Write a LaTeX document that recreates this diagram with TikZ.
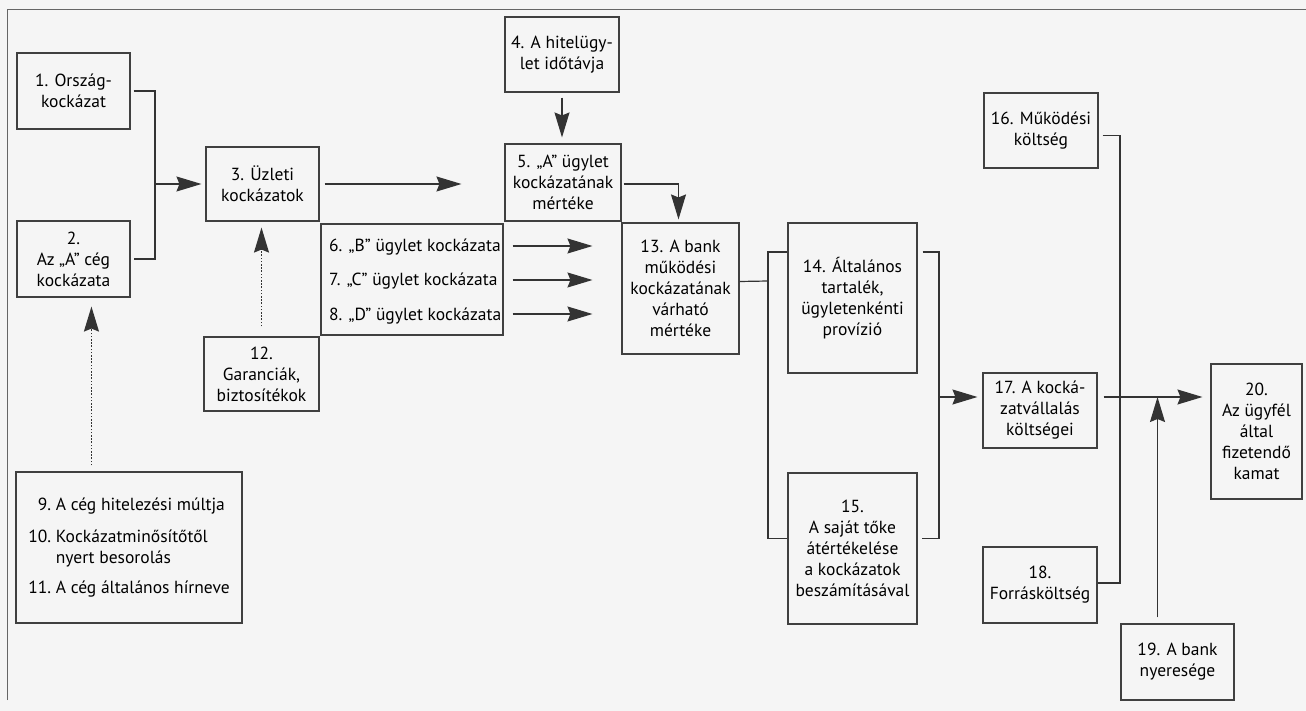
\documentclass[tikz,border=0pt]{standalone}
\usepackage{fontspec}
\setmainfont{PT Sans}
\usetikzlibrary{arrows.meta}

\begin{document}
\begin{tikzpicture}[
    x=1pt, y=-1pt,
    every node/.style={font=\fontsize{17.5}{21}\selectfont, align=center, inner sep=2pt},
    box/.style 2 args={draw=black!75, line width=1.1pt, minimum width=#1, minimum height=#2},
    txt/.style={anchor=base west, inner sep=0pt},
    link/.style={draw=black!80, line width=1.2pt},
    arr/.style={link, -{Stealth[length=25pt, width=15pt, inset=3pt]}},
    dotarr/.style={arr, line width=1.6pt, dash pattern=on 1.6pt off 1.6pt}
]
% Page and frame
\useasboundingbox (0,0) rectangle (1306,711);
\fill[black!4] (0,0) rectangle (1306,711);
\draw[black!60, line width=1pt] (7,700) -- (7,10) -- (1306,10);

% Boxes, left part
\node[box={113}{76}] (orszag) at (73.5,91) {1. Ország-\\kockázat};
\node[box={113}{76}] (ceg) at (73.5,259) {2.\\Az „A” cég\\kockázata};
\node[box={113}{74}] (uzleti) at (262.5,184) {3. Üzleti\\kockázatok};
\node[box={115}{74}] (garancia) at (261.5,374) {12.\\Garanciák,\\biztosítékok};
\node[box={226}{151}] (multja) at (129,547.5) {%
    \begin{tabular}{@{}r@{\ }l@{}}
    9. & A cég hitelezési múltja\\[11pt]
    10. & Kockázatminősítőtől\\
        & nyert besorolás\\[9pt]
    11. & A cég általános hírneve
    \end{tabular}};

% Boxes, deals
\node[box={114}{75}] (idotav) at (562,54.5) {4. A hitelügy-\\let időtávja};
\node[box={116}{77}] (ugyletA) at (563,182.5) {5. „A” ügylet\\kockázatának\\mértéke};
\node[box={182}{111}] (ugyletek) at (412,279.5) {};
\node[txt] (ugyletB) at (329,252) {6. „B” ügylet kockázata};
\node[txt] (ugyletC) at (329,286) {7. „C” ügylet kockázata};
\node[txt] (ugyletD) at (329,320) {8. „D” ügylet kockázata};
\node[box={117}{131}] (bank) at (680.5,288.5) {13. A bank\\működési\\kockázatának\\várható\\mértéke};

% Boxes, right part
\node[box={129}{150}] (tartalek) at (852.5,298) {14. Általános\\tartalék,\\ügyletenkénti\\provízió};
\node[box={129}{151}] (toke) at (852.5,548.5) {15.\\A saját tőke\\átértékelése\\a kockázatok\\beszámításával};
\node[box={114}{75}] (mukodes) at (1041,130.5) {16. Működési\\költség};
\node[box={114}{75}] (vallalas) at (1040,410.5) {17. A kocká-\\zatvállalás\\költségei};
\node[box={114}{76}] (forras) at (1040,585) {18.\\Forrásköltség};
\node[box={113}{76}] (nyereseg) at (1177.5,662) {19. A bank\\nyeresége};
\node[box={91}{135}] (kamat) at (1256.5,431.5) {20.\\Az ügyfél\\által\\fizetendő\\kamat};

% Joints
\coordinate (j3) at (155,184);
\coordinate (j13) at (768,281);
\coordinate (j17) at (939,397);
\coordinate (j20) at (1120,397);

% Connections
\draw[link] ([xshift=3]orszag.east) -| (j3) |- ([xshift=3]ceg.east);
\draw[arr] (j3) -- ([xshift=-4]uzleti.west);
\draw[arr] ([xshift=5]uzleti.east) -- ([xshift=-43]ugyletA.west |- uzleti.east);
\draw[arr] ([yshift=-5]idotav.south) -- ([yshift=6]idotav.south |- ugyletA.north);
\draw[arr] ([xshift=2]ugyletA.east |- uzleti.east) -| ([xshift=-2,yshift=3]bank.north);
\foreach \u in {ugyletB, ugyletC, ugyletD}
    \draw[arr] ([xshift=9,yshift=6]ugyletek.east |- \u.base) -- ([xshift=-29,yshift=6]bank.west |- \u.base);
\draw[dotarr] ([yshift=10]garancia.north) -- ([yshift=-6]garancia.north |- uzleti.south);
\draw[dotarr] ([xshift=76,yshift=6]multja.north west) coordinate (m9) -- ([yshift=-9]m9 |- ceg.south);

\draw[link] ([yshift=7]bank.east) -- (j13);
\draw[link] ([yshift=46]tartalek.west) -| (j13) |- ([yshift=10]toke.west);
\draw[link] ([xshift=5,yshift=46]tartalek.east) -| (j17) |- ([xshift=4,yshift=10]toke.east);
\draw[arr] (j17) -- ([xshift=-5]vallalas.west |- j17);

\draw[link] ([xshift=4,yshift=-5]mukodes.east) -| (j20) |- ([yshift=2]forras.east);
\draw[arr] ([xshift=6]vallalas.east |- j17) -- ([xshift=-8]kamat.west |- j17);
\draw[arr] ([xshift=-20,yshift=6]nyereseg.north) coordinate (n19) -- (n19 |- j20);

\end{tikzpicture}
\end{document}
